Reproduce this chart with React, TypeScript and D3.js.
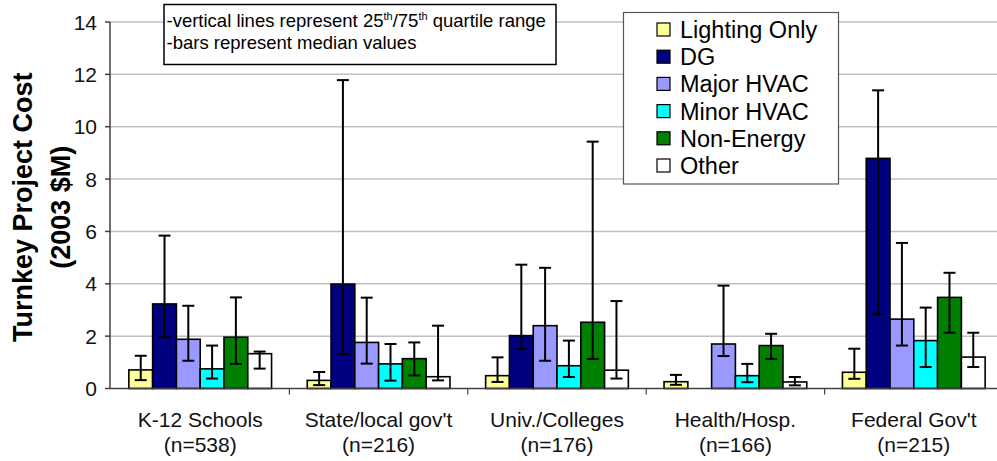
import React from "react";
import * as d3 from "d3";

const categories = ["K-12 Schools", "State/local gov't", "Univ./Colleges", "Health/Hosp.", "Federal Gov't"];
const counts = ["(n=538)", "(n=216)", "(n=176)", "(n=166)", "(n=215)"];
const seriesNames = ["Lighting Only", "DG", "Major HVAC", "Minor HVAC", "Non-Energy", "Other"];
const seriesColors = ["#FFFF99", "#000080", "#9999FF", "#00FFFF", "#008000", "#FFFFFF"];

const medianLighting = [0.71, 0.31, 0.49, 0.26, 0.62];
const medianDG = [3.23, 3.99, 2.02, null, 8.79];
const medianMajor = [1.88, 1.76, 2.4, 1.7, 2.65];
const medianMinor = [0.75, 0.94, 0.87, 0.49, 1.83];
const medianNonEnergy = [1.96, 1.14, 2.53, 1.64, 3.48];
const medianOther = [1.33, 0.45, 0.7, 0.25, 1.2];

const p25Lighting = [0.32, 0.13, 0.25, 0.14, 0.37];
const p25DG = [1.96, 1.32, 1.51, null, 2.83];
const p25Major = [1.06, 0.95, 1.06, 1.24, 1.64];
const p25Minor = [0.38, 0.3, 0.44, 0.24, 0.82];
const p25NonEnergy = [0.94, 0.5, 1.13, 1.13, 2.13];
const p25Other = [0.76, 0.31, 0.38, 0.12, 0.82];

const p75Lighting = [1.25, 0.63, 1.19, 0.52, 1.52];
const p75DG = [5.84, 11.78, 4.73, null, 11.39];
const p75Major = [3.16, 3.47, 4.61, 3.93, 5.56];
const p75Minor = [1.64, 1.7, 1.83, 0.94, 3.09];
const p75NonEnergy = [3.48, 1.76, 9.43, 2.09, 4.42];
const p75Other = [1.41, 2.4, 3.34, 0.44, 2.13];

const yTicks = [0, 2, 4, 6, 8, 10, 12, 14];
const noteLines = ["quartile", "median"];

const medians = [medianLighting, medianDG, medianMajor, medianMinor, medianNonEnergy, medianOther];
const p25s = [p25Lighting, p25DG, p25Major, p25Minor, p25NonEnergy, p25Other];
const p75s = [p75Lighting, p75DG, p75Major, p75Minor, p75NonEnergy, p75Other];

const W = 997;
const H = 461;
const FONT = "'Liberation Sans', Arial, Helvetica, sans-serif";

export default function App() {
  const x0 = 111;
  const step = 178.4;
  const xCat = d3.scaleBand<string>().domain(categories).range([x0, x0 + step * categories.length]).padding(0);
  const xSer = d3
    .scaleBand<string>()
    .domain(seriesNames)
    .range([0, xCat.bandwidth()])
    .paddingInner(0)
    .paddingOuter(0.75);
  const y = d3.scaleLinear().domain([0, 14]).range([388.5, 22]);
  const plotRight = x0 + step * categories.length;
  const capW = 12;

  return (
    <svg
      width={W}
      height={H}
      viewBox={`0 0 ${W} ${H}`}
      style={{ position: "absolute", left: 0, top: 0, background: "#fff" }}
      fontFamily={FONT}
    >
      <rect x={0} y={0} width={W} height={H} fill="#fff" />
      {/* gridlines */}
      {yTicks
        .filter((t) => t > 0)
        .map((t) => (
          <line key={"g" + t} x1={x0 - 1} x2={plotRight} y1={y(t)} y2={y(t)} stroke="#c0c0c0" strokeWidth={1.5} />
        ))}
      {/* bars */}
      {seriesNames.map((s, si) =>
        categories.map((c, ci) => {
          const v = medians[si][ci];
          if (v == null) return null;
          const bx = (xCat(c) as number) + (xSer(s) as number);
          return (
            <rect
              key={s + c}
              x={bx}
              y={y(v)}
              width={xSer.bandwidth()}
              height={y(0) - y(v)}
              fill={seriesColors[si]}
              stroke="#000"
              strokeWidth={1.6}
            />
          );
        })
      )}
      {/* error bars */}
      {seriesNames.map((s, si) =>
        categories.map((c, ci) => {
          const lo = p25s[si][ci];
          const hi = p75s[si][ci];
          if (lo == null || hi == null) return null;
          const cx = (xCat(c) as number) + (xSer(s) as number) + xSer.bandwidth() / 2;
          return (
            <g key={"e" + s + c} stroke="#000" strokeWidth={2}>
              <line x1={cx} x2={cx} y1={y(lo)} y2={y(hi)} />
              <line x1={cx - capW / 2} x2={cx + capW / 2} y1={y(lo)} y2={y(lo)} />
              <line x1={cx - capW / 2} x2={cx + capW / 2} y1={y(hi)} y2={y(hi)} />
            </g>
          );
        })
      )}
      {/* y axis */}
      <line x1={x0 - 1} x2={x0 - 1} y1={y(14)} y2={y(0)} stroke="#404040" strokeWidth={1.5} />
      {yTicks.map((t) => (
        <g key={"t" + t}>
          <line x1={x0 - 6} x2={x0 - 1} y1={y(t)} y2={y(t)} stroke="#404040" strokeWidth={1.5} />
          <text x={97} y={y(t)} dy="0.36em" textAnchor="end" fontSize={21} fill="#111">
            {t}
          </text>
        </g>
      ))}
      {/* x axis */}
      <line x1={x0 - 1} x2={plotRight} y1={y(0)} y2={y(0)} stroke="#404040" strokeWidth={1.5} />
      {categories.map((c, i) => {
        const bx = xCat(c) as number;
        return (
          <g key={"x" + c}>
            {i > 0 && <line x1={bx} x2={bx} y1={y(0)} y2={y(0) + 6} stroke="#404040" strokeWidth={1.2} />}
            <text x={bx + xCat.bandwidth() / 2} y={427} textAnchor="middle" fontSize={21} fill="#111">
              {c}
            </text>
            <text x={bx + xCat.bandwidth() / 2} y={452} textAnchor="middle" fontSize={21} fill="#111">
              {counts[i]}
            </text>
          </g>
        );
      })}
      {/* y title */}
      <g transform={`translate(32, ${(y(0) + y(14)) / 2 + 2}) rotate(-90)`}>
        <text x={0} y={0} textAnchor="middle" fontSize={27} fontWeight="bold" fill="#000">
          Turnkey Project Cost
        </text>
        <text x={0} y={37.5} textAnchor="middle" fontSize={27} fontWeight="bold" fill="#000">
          (2003 $M)
        </text>
      </g>
      {/* note box */}
      <rect x={164} y={4.5} width={392} height={60} fill="#fff" stroke="#000" strokeWidth={1.5} />
      <text x={166.5} y={26.5} fontSize={18.5} fill="#000">
        -vertical lines represent 25
        <tspan fontSize={11} dy={-7}>th</tspan>
        <tspan dy={7}>/75</tspan>
        <tspan fontSize={11} dy={-7}>th</tspan>
        <tspan dy={7}> {noteLines[0]} range</tspan>
      </text>
      <text x={166.5} y={49} fontSize={18.5} fill="#000">
        -bars represent {noteLines[1]} values
      </text>
      {/* legend */}
      <rect x={623.5} y={12.5} width={215} height={171.5} fill="#fff" stroke="#555" strokeWidth={1.2} />
      {seriesNames.map((s, i) => {
        const cy = 29.5 + i * 27.2;
        return (
          <g key={"l" + s}>
            <rect x={657} y={cy - 6.5} width={13} height={13} fill={seriesColors[i]} stroke="#000" strokeWidth={1.2} />
            <text x={680} y={cy} dy="0.36em" fontSize={23.5} fill="#000">
              {s}
            </text>
          </g>
        );
      })}
    </svg>
  );
}
